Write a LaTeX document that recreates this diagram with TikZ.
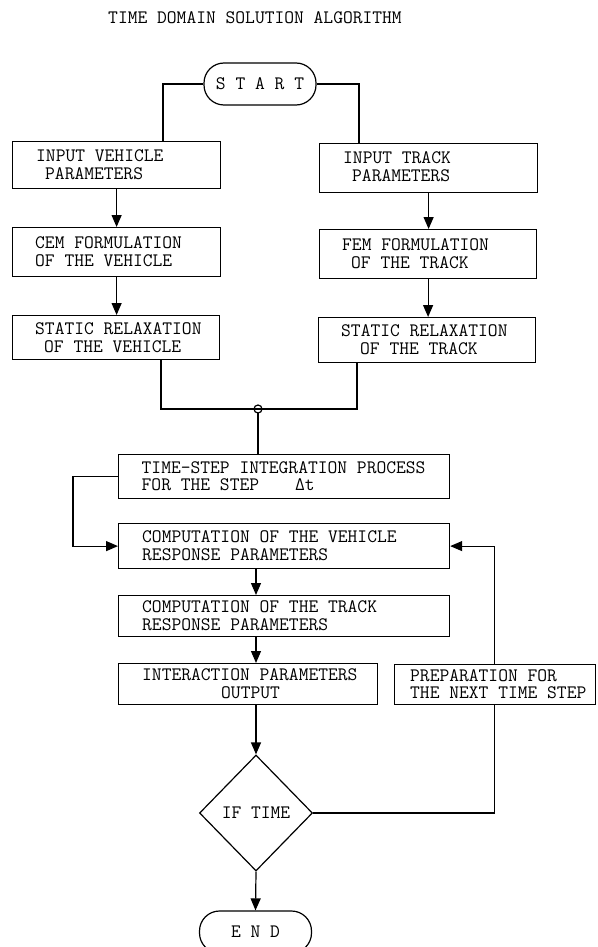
\documentclass[tikz,border=0pt]{standalone}
\usepackage{fontspec}
\usetikzlibrary{arrows.meta,shapes.geometric,calc}
\begin{document}
\begin{tikzpicture}[x=1pt,y=-1pt,
  lbl/.style={font=\fontsize{19}{17.6}\selectfont\ttfamily},
  frame/.style={draw, line width=1.2pt, rectangle, anchor=north west, inner sep=0pt},
  txt/.style={lbl, anchor=west, align=left, inner sep=0pt},
  term/.style={draw, line width=1.2pt, rounded corners=20pt, minimum width=112pt, minimum height=42pt, lbl, inner sep=0pt},
  link/.style={line width=1.2pt},
  flow/.style={link, -{Triangle[length=12pt,width=10pt]}}]
\useasboundingbox (0,0) rectangle (597,947);

\node[lbl, anchor=center] (title) at (255,17.5) {TIME DOMAIN SOLUTION ALGORITHM};

\node[term] (start) at (260,84) {S T A R T};

% left column
\node[frame, minimum width=208pt, minimum height=47pt] (iv) at (12,141) {};
\node[txt] (ivt) at (36,164.5) {INPUT VEHICLE\\\hspace*{9pt}PARAMETERS};
\node[frame, minimum width=208pt, minimum height=49pt] (cem) at (12,227) {};
\node[txt] (cemt) at (35,251.5) {CEM FORMULATION\\OF THE VEHICLE};
\node[frame, minimum width=207pt, minimum height=44pt] (sv) at (12,315) {};
\node[txt] (svt) at (35,337.5) {STATIC RELAXATION\\\hspace*{9pt}OF THE VEHICLE};

% right column
\node[frame, minimum width=218pt, minimum height=49pt] (it) at (319,143) {};
\node[txt] (itt) at (343,166.5) {INPUT TRACK\\\hspace*{9pt}PARAMETERS};
\node[frame, minimum width=217pt, minimum height=49pt] (fem) at (319,229) {};
\node[txt] (femt) at (342,253.5) {FEM FORMULATION\\\hspace*{9pt}OF THE TRACK};
\node[frame, minimum width=217pt, minimum height=45pt] (st) at (318,317) {};
\node[txt] (stt) at (341,339.5) {STATIC RELAXATION\\\hspace*{19pt}OF THE TRACK};

% lower part
\node[frame, minimum width=331pt, minimum height=44pt] (ts) at (118,454) {};
\node[txt] (tst) at (141.5,476) {TIME-STEP INTEGRATION PROCESS\\FOR THE STEP\hspace*{36pt}Δt};
\node[frame, minimum width=331pt, minimum height=45pt] (cv) at (118,523) {};
\node[txt] (cvt) at (142,545.5) {COMPUTATION OF THE VEHICLE\\RESPONSE PARAMETERS};
\node[frame, minimum width=331pt, minimum height=41pt] (ct) at (118,595) {};
\node[txt] (ctt) at (142,615.5) {COMPUTATION OF THE TRACK\\RESPONSE PARAMETERS};
\node[frame, minimum width=259pt, minimum height=41pt] (ip) at (118,663) {};
\node[txt] (ipt) at (142,683.5) {INTERACTION PARAMETERS\\\hspace*{79pt}OUTPUT};
\node[frame, minimum width=201pt, minimum height=40pt] (pp) at (394,664) {};
\node[txt] (ppt) at (410,684) {PREPARATION FOR\\THE NEXT TIME STEP};

\node[draw, line width=1.2pt, diamond, minimum width=113pt, minimum height=116pt, inner sep=0pt, lbl] (dec) at (256,813) {IF TIME};
\node[term] (end) at (255.5,932) {E N D};

% coordinates for bends
\coordinate (cl) at (163,84);
\coordinate (cr) at (359,84);
\coordinate (jl) at (161,409);
\coordinate (jr) at (357,409);
\coordinate (j) at (258,409);
\coordinate (ll) at (73,476);
\coordinate (rl) at (494.5,0);

% connectors
\draw[link] (start.west) -- (cl) -- (cl |- iv.north);
\draw[link] (start.east) -- (cr) -- (cr |- it.north);
\draw[flow] (iv.south) -- (iv.south |- cem.north);
\draw[flow] (cem.south) -- (cem.south |- sv.north);
\draw[flow] (it.south) -- (it.south |- fem.north);
\draw[flow] (fem.south) -- (fem.south |- st.north);
\draw[link] (sv.south -| jl) -- (jl) -- (jr) -- (st.south -| jr);
\draw[link] (j) circle (4pt);
\draw[link] ($(j)+(0,4)$) -- (j |- ts.north);
\draw[flow] (ts.west) -- (ts.west -| ll) |- (cv.west);
\draw[flow] (cv.south -| dec) -- (ct.north -| dec);
\draw[flow] (ct.south -| dec) -- (ip.north -| dec);
\draw[flow] (ip.south -| dec) -- (dec.north);
\draw[flow] (dec.south) -- (end.north);
\draw[link] (dec.east) -| (pp.south -| rl);
\draw[flow] (pp.north -| rl) |- (cv.east);
\end{tikzpicture}
\end{document}
